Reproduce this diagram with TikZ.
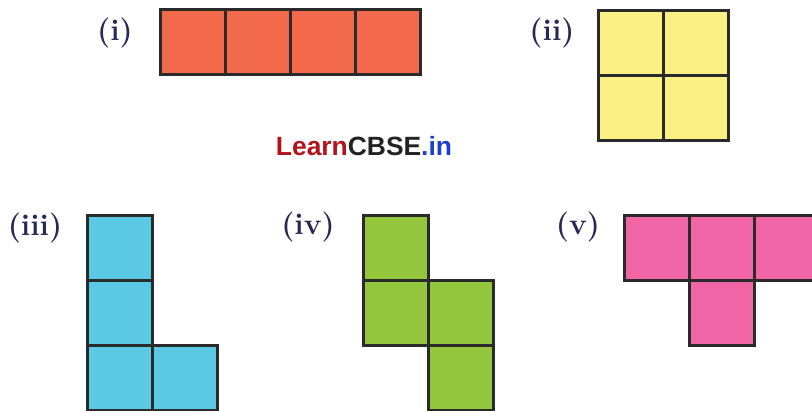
\documentclass[tikz,border=0pt]{standalone}
\usepackage{fontspec}
\newfontfamily\markfont{Liberation Sans}
\definecolor{cellline}{HTML}{2A2A2A}
\definecolor{cellred}{HTML}{F26A4B}
\definecolor{cellyellow}{HTML}{F9F183}
\definecolor{cellcyan}{HTML}{5BC9E4}
\definecolor{cellgreen}{HTML}{93C63D}
\definecolor{cellpink}{HTML}{F065A5}
\definecolor{tagblue}{HTML}{262955}
\definecolor{learnred}{HTML}{B3141C}
\definecolor{learnblack}{HTML}{222222}
\definecolor{learnblue}{HTML}{1E3ED2}
\begin{document}
\begin{tikzpicture}[x=0.5pt, y=-0.5pt]
\tikzset{
  cell/.style={draw=cellline, line width=1.5pt},
  tag/.style={font=\fontsize{15}{17}\selectfont\bfseries, text=tagblue, inner sep=0pt}
}
\useasboundingbox (0,0) rectangle (812,411);

% (i) row of four
\node[tag] (tagi) at (115,33) {(i)};
\foreach \x in {160,225,290,355}
  \draw[cell, fill=cellred] (\x,10) rectangle ++(65,65);

% (ii) two by two
\node[tag] (tagii) at (552,33) {(ii)};
\foreach \x/\y in {598/11,663/11,598/76,663/76}
  \draw[cell, fill=cellyellow] (\x,\y) rectangle ++(65,65);

% watermark
\node[font=\markfont\bfseries\fontsize{13.2}{15}\selectfont, inner sep=0pt] (logo) at (364,146)
  {\textcolor{learnred}{Learn}\textcolor{learnblack}{CBSE}\textcolor{learnblue}{.in}};

% (iii) L shape
\node[tag] (tagiii) at (35,228) {(iii)};
\foreach \x/\y in {87/215,87/280,87/345,152/345}
  \draw[cell, fill=cellcyan] (\x,\y) rectangle ++(65,65);

% (iv) skew shape
\node[tag] (tagiv) at (308,227) {(iv)};
\foreach \x/\y in {363/215,363/280,428/280,428/345}
  \draw[cell, fill=cellgreen] (\x,\y) rectangle ++(65,65);

% (v) T shape
\node[tag] (tagv) at (578,227) {(v)};
\foreach \x/\y in {624/215,689/215,754/215,689/280}
  \draw[cell, fill=cellpink] (\x,\y) rectangle ++(65,65);
\end{tikzpicture}
\end{document}
